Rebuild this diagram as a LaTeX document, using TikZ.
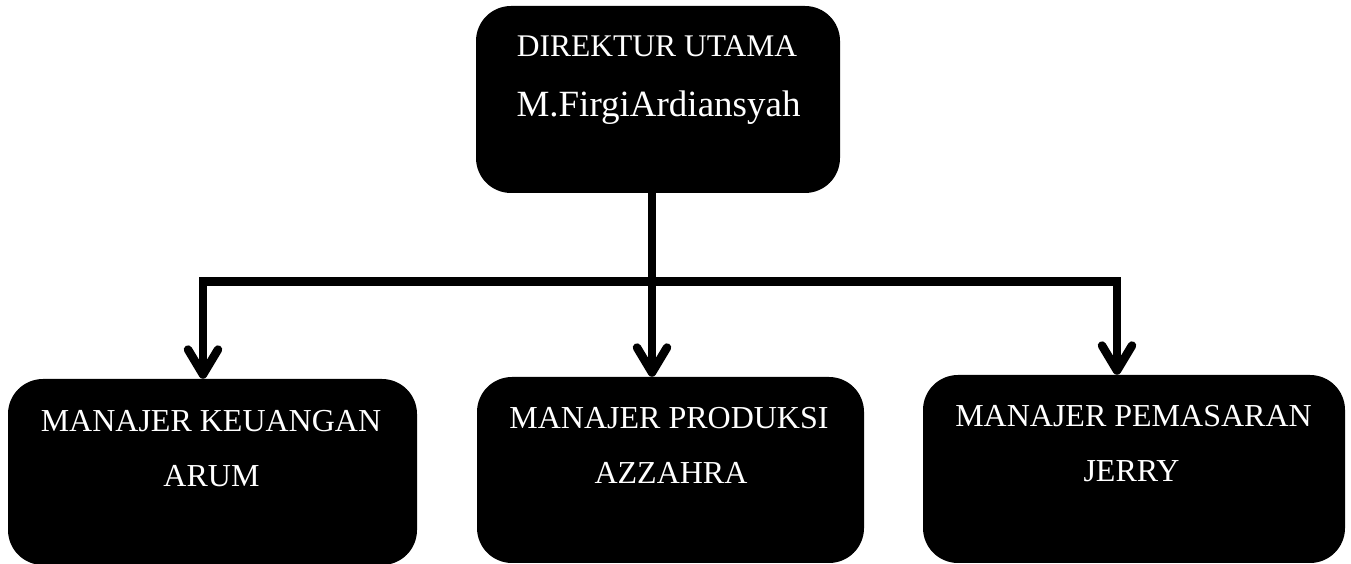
\documentclass[tikz,border=0pt]{standalone}
\usepackage{fontspec}
\setmainfont{Liberation Serif}
\usetikzlibrary{arrows.meta}
\begin{document}
\begin{tikzpicture}[x=1pt,y=1pt,
  box/.style={fill=black, draw=none, rounded corners=35pt, inner sep=0pt},
  lbl/.style={text=white, anchor=base, inner sep=0pt},
  conn/.style={line width=8.5pt, draw=black},
  barb/.tip={Straight Barb[length=25pt,width=30pt,round]},
  tip/.style={-barb}
]
\useasboundingbox (0,0) rectangle (1351,564);
% boxes
\node[box, minimum width=364pt, minimum height=187pt] (top) at (658,464.5) {};
\node[box, minimum width=409pt, minimum height=186pt] (left) at (212.5,92) {};
\node[box, minimum width=387pt, minimum height=186pt] (mid) at (670.5,94) {};
\node[box, minimum width=422pt, minimum height=188pt] (right) at (1134,95) {};
% texts
\node[lbl, font=\fontsize{31.5}{31.5}\selectfont] (t1) at (657,507.3) {DIREKTUR UTAMA};
\node[lbl, font=\fontsize{37}{37}\selectfont] (t2) at (658.5,447.3) {M.FirgiArdiansyah};
\node[lbl, font=\fontsize{32}{32}\selectfont] (l1) at (211,132.3) {MANAJER KEUANGAN};
\node[lbl, font=\fontsize{32}{32}\selectfont] (l2) at (211.5,77.3) {ARUM};
\node[lbl, font=\fontsize{32}{32}\selectfont] (m1) at (669,135.7) {MANAJER PRODUKSI};
\node[lbl, font=\fontsize{32}{32}\selectfont] (m2) at (671,80.7) {AZZAHRA};
\node[lbl, font=\fontsize{32}{32}\selectfont] (r1) at (1133.5,137.3) {MANAJER PEMASARAN};
\node[lbl, font=\fontsize{32}{32}\selectfont] (r2) at (1131.5,82.3) {JERRY};
% connectors
\coordinate (hr) at (1117,282.5);
\draw[conn, barb-barb]
  ([xshift=-9.5pt]left.north) |- (hr) -- ([xshift=-17pt]right.north);
\draw[conn, tip] ([xshift=-6pt]top.south) -- ([xshift=-18.5pt]mid.north);
\end{tikzpicture}
\end{document}
